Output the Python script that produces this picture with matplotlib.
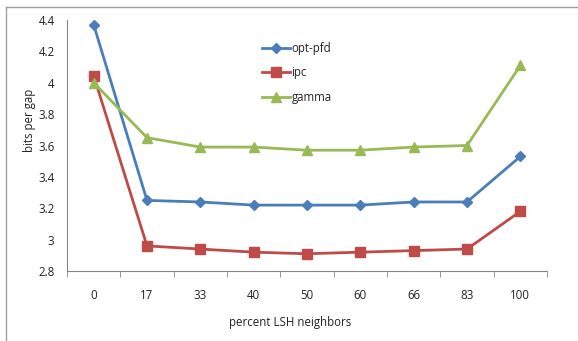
import matplotlib
matplotlib.use("Agg")
import matplotlib.pyplot as plt
from matplotlib.lines import Line2D

categories = ["0", "17", "33", "40", "50", "60", "66", "83", "100"]
opt_pfd = [4.37, 3.25, 3.24, 3.22, 3.22, 3.22, 3.24, 3.24, 3.53]
ipc = [4.045, 2.96, 2.94, 2.92, 2.91, 2.92, 2.93, 2.94, 3.18]
gamma = [4.00, 3.65, 3.59, 3.59, 3.57, 3.57, 3.59, 3.60, 4.11]
yticks = [2.8, 3.0, 3.2, 3.4, 3.6, 3.8, 4.0, 4.2, 4.4]
ytick_labels = ["2.8", "3", "3.2", "3.4", "3.6", "3.8", "4", "4.2", "4.4"]

plt.rcParams['font.family'] = ['Open Sans', 'DejaVu Sans']

W, H = 578, 341
fig = plt.figure(figsize=(W / 100, H / 100), dpi=100)
ax = fig.add_axes([67 / W, 1 - 271 / H, (547 - 67) / W, (271 - 20) / H])

x = list(range(len(categories)))
ax.plot(x, opt_pfd, color="#4A7EBB", marker="D", markersize=5, linewidth=2, label="opt-pfd")
ax.plot(x, ipc, color="#BE4B48", marker="s", markersize=7.5, linewidth=2, label="ipc")
ax.plot(x, gamma, color="#98B954", marker="^", markersize=7.5, linewidth=2, label="gamma")

ax.set_xlim(-0.5, len(categories) - 0.5)
ax.set_ylim(2.8, 4.4)
ax.set_yticks(yticks)
ax.set_yticklabels(ytick_labels)
ax.set_xticks(x)
ax.set_xticklabels(categories)
ax.set_xticks([i - 0.5 for i in range(len(categories) + 1)], minor=True)
fs = 8.3
ax.tick_params(axis="x", which="major", length=0, pad=13, labelsize=fs, colors="#222222")
ax.tick_params(axis="x", which="minor", length=4, color="#868686", direction="out")
ax.tick_params(axis="y", length=0, pad=9, labelsize=fs, colors="#222222")

for s in ["top", "right"]:
    ax.spines[s].set_visible(False)
for s in ["left", "bottom"]:
    ax.spines[s].set_color("#868686")
    ax.spines[s].set_linewidth(0.8)

ax.set_ylabel("bits per gap", fontsize=fs, color="#222222")
ax.yaxis.set_label_coords(-(67 - 36) / (547 - 67), 0.6)
ax.set_xlabel("percent LSH neighbors", fontsize=fs, color="#222222")
ax.xaxis.set_label_coords((290 - 67) / (547 - 67), -(316 - 271) / (271 - 20))

leg = ax.legend(loc="upper left", bbox_to_anchor=((262 - 67) / (547 - 67), 1 - (42 - 20) / (271 - 20)),
                frameon=False, fontsize=fs, handlelength=2.4, labelspacing=0.98,
                handletextpad=0.15, borderaxespad=0, borderpad=0)
for t in leg.get_texts():
    t.set_color("#222222")

fig.add_artist(Line2D([6 / W, 6 / W], [0, 1 - 7 / H], transform=fig.transFigure, color="#A0A0A0", linewidth=1))
fig.add_artist(Line2D([6 / W, 1], [1 - 7 / H, 1 - 7 / H], transform=fig.transFigure, color="#A0A0A0", linewidth=1))

fig.savefig("out.png", dpi=100)
